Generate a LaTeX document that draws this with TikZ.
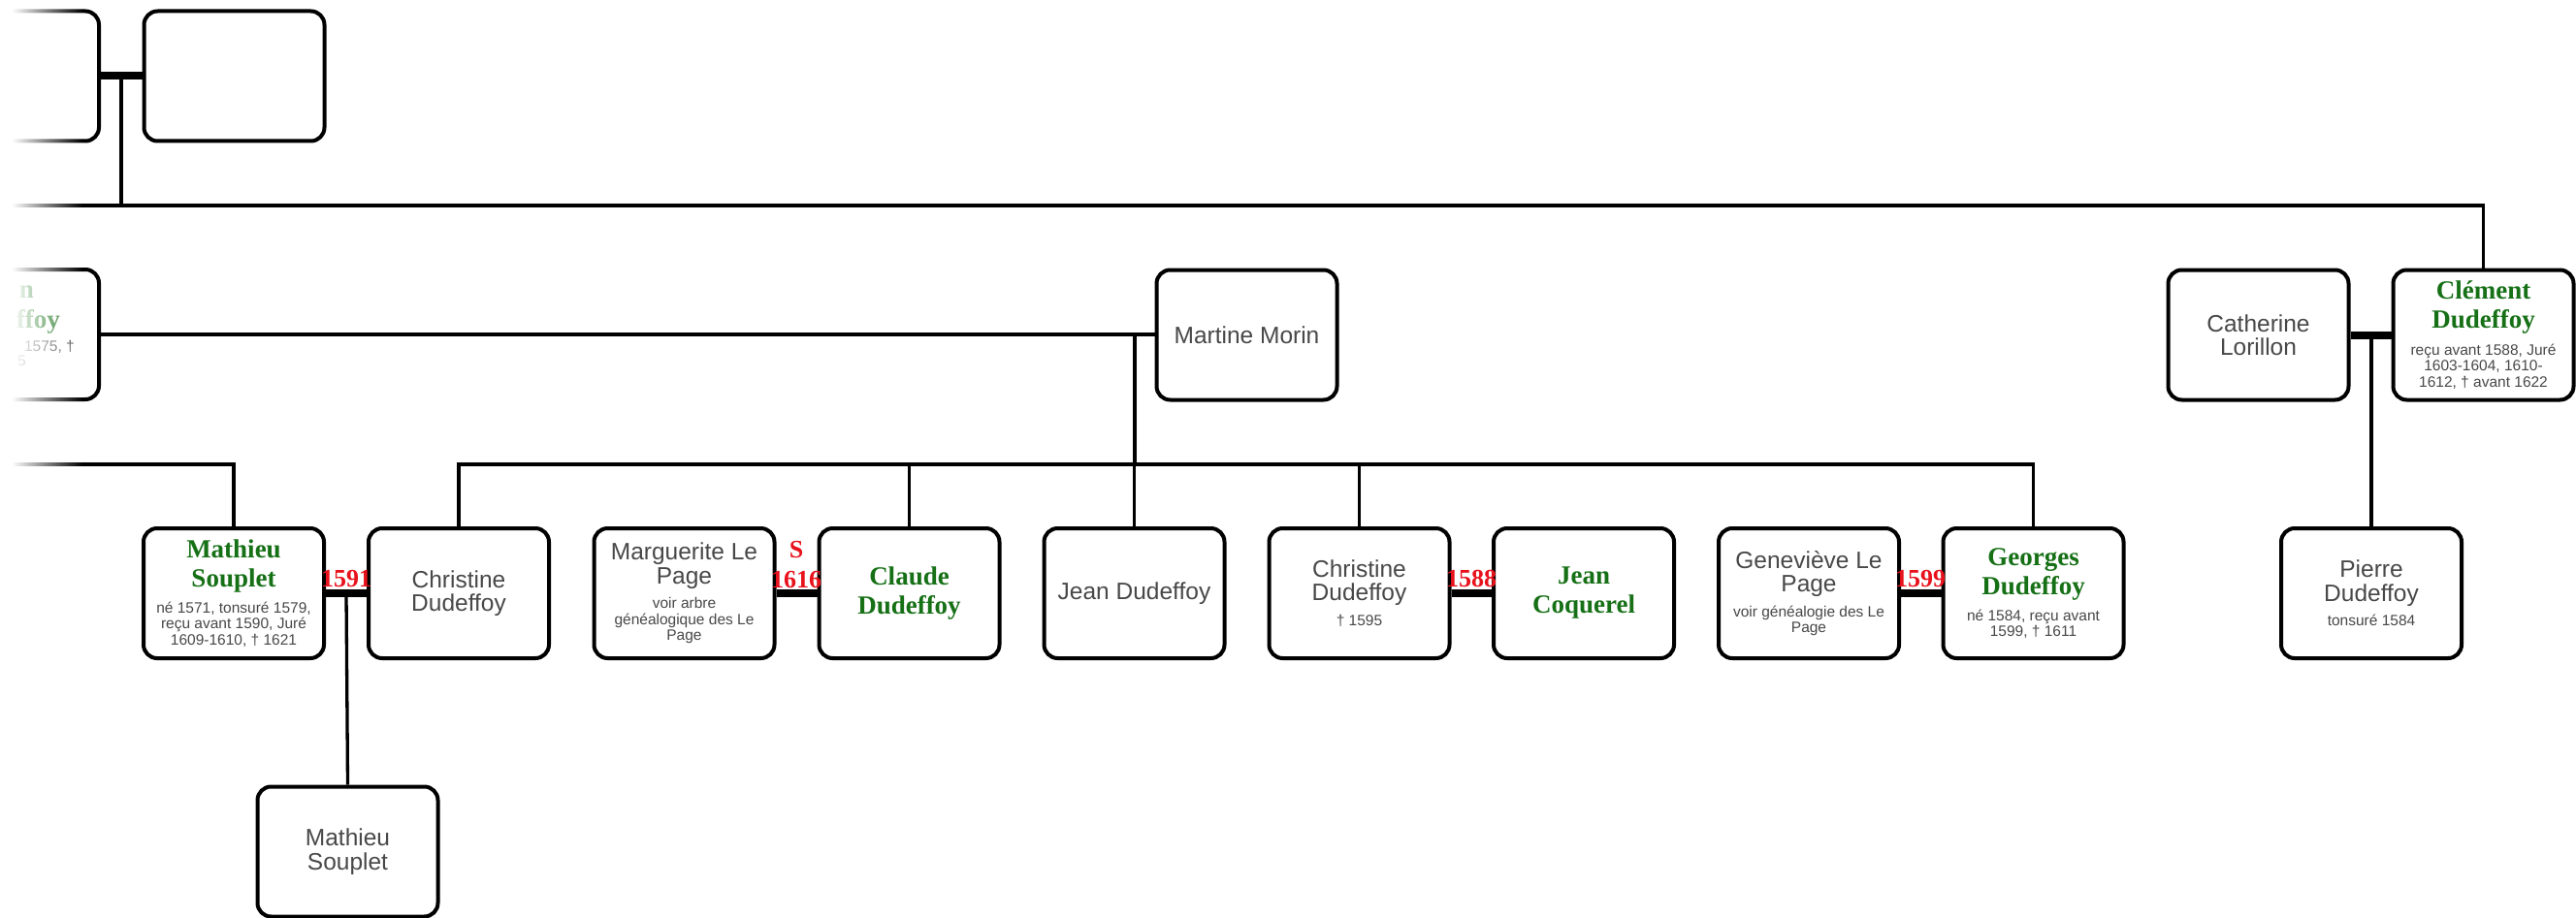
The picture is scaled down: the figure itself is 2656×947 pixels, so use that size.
\documentclass[tikz,border=0pt]{standalone}
\usepackage{fontspec}
\setmainfont{Liberation Sans}
\newfontfamily\serifb{Liberation Serif}
\usetikzlibrary{fadings}
\definecolor{txtgrey}{RGB}{72,72,72}
\definecolor{gname}{RGB}{22,112,22}
\definecolor{redlab}{RGB}{232,18,28}
\tikzfading[name=fadeR, left color=transparent!0, right color=transparent!100]
\newcommand\nmfont{\fontsize{24.5}{24.5}\selectfont\color{txtgrey}}
\newcommand\dtfont{\fontsize{15.5}{16.5}\selectfont\color{txtgrey}}
\newcommand\gnfont{\serifb\bfseries\fontsize{27}{30}\selectfont\color{gname}}
\newcommand\rdfont{\serifb\bfseries\fontsize{26}{31}\selectfont\color{redlab}}
\newcommand\pcard[1]{\vbox{\hsize=184pt\parindent=0pt\parskip=0pt\centering #1}}
\newcommand\dcard[1]{\vbox{\hsize=70pt\parindent=0pt\parskip=0pt\centering\rdfont #1\par}}
\begin{document}
\begin{tikzpicture}[x=1pt,y=-1pt,
  person/.style={draw=black, line width=4pt, rounded corners=14pt,
    minimum width=186pt, minimum height=134pt, inner sep=0pt, fill=white},
  link/.style={line width=3.3pt},
  wed/.style={line width=8pt},
  datelab/.style={inner sep=0pt},
  frag/.style={anchor=base east, inner sep=0pt}]
\useasboundingbox (0,0) rectangle (2656,947);

% ---- row 1
\node[person] (tl1) at (9,78.5) {};
\node[person] (tl2) at (241.5,78.5) {};
% ---- row 2
\node[person] (r2l) at (9,345) {};
\node[person] (mar) at (1285.5,345.5) {\pcard{\nmfont Martine Morin\par}};
\node[person] (cat) at (2328.5,345.5) {\pcard{\nmfont Catherine\\Lorillon\par}};
\node[person] (cle) at (2560.5,345.5) {\pcard{{\gnfont Clément\\Dudeffoy\par}\vskip 9pt{\dtfont reçu avant 1588, Juré\\1603-1604, 1610-\\1612, † avant 1622\par}}};
% ---- row 3
\node[person] (mat) at (241,612) {\pcard{{\gnfont Mathieu\\Souplet\par}\vskip 9pt{\dtfont né 1571, tonsuré 1579,\\reçu avant 1590, Juré\\1609-1610, † 1621\par}}};
\node[person] (chr) at (473,612) {\pcard{\nmfont Christine\\Dudeffoy\par}};
\node[person] (mgt) at (705.5,612) {\pcard{{\nmfont Marguerite Le\\Page\par}\vskip 9pt{\dtfont voir arbre\\généalogique des Le\\Page\par}}};
\node[person] (cla) at (937.5,612) {\pcard{\gnfont Claude\\Dudeffoy\par}};
\node[person] (jea) at (1169.5,612) {\pcard{\nmfont Jean Dudeffoy\par}};
\node[person] (ch2) at (1401.5,612) {\pcard{{\nmfont Christine\\Dudeffoy\par}\vskip 9pt{\dtfont † 1595\par}}};
\node[person] (coq) at (1633,612) {\pcard{\gnfont Jean\\Coquerel\par}};
\node[person] (gen) at (1865,612) {\pcard{{\nmfont Geneviève Le\\Page\par}\vskip 9pt{\dtfont voir généalogie des Le\\Page\par}}};
\node[person] (geo) at (2096.5,612) {\pcard{{\gnfont Georges\\Dudeffoy\par}\vskip 9pt{\dtfont né 1584, reçu avant\\1599, † 1611\par}}};
\node[person] (pie) at (2445,612) {\pcard{{\nmfont Pierre\\Dudeffoy\par}\vskip 9pt{\dtfont tonsuré 1584\par}}};
% ---- row 4
\node[person] (ma2) at (358.5,878.5) {\pcard{\nmfont Mathieu\\Souplet\par}};

% ---- visible fragments of the cut-off box
\node[frag] (fa) at (35,307) {\gnfont n};
\node[frag] (fb) at (62,338) {\gnfont ffoy};
\node[frag] (fc) at (77,362) {\dtfont 1575, †};
\node[frag] (fd) at (27,377) {\dtfont 5};

% ---- coordinates
\coordinate (topj) at (125,78.5);
\coordinate (tl0) at (-5,212);
\coordinate (mj) at (1170,345);
\coordinate (sib) at (1170,479);
\coordinate (ll0) at (-5,479);
\coordinate (cj) at (2445,345.5);
\coordinate (msj) at (357,612);

% ---- connectors
\draw[wed] (tl1.east) -- (tl2.west);
\draw[link] (topj) -- (topj |- tl0);
\draw[link] (tl0) -| (cle.north);

\draw[link] (r2l.east |- mj) -- (mar.west |- mj);
\draw[link] (mj) -- (sib);
\draw[link] (chr.north) |- (sib);
\draw[link] (sib) -| (geo.north);
\draw[link] (cla.north) -- (cla.north |- sib);
\draw[link] (jea.north) -- (jea.north |- sib);
\draw[link] (ch2.north) -- (ch2.north |- sib);
\draw[link] (ll0) -| (mat.north);

\draw[wed] (cat.east) -- (cle.west);
\draw[link] (cj) -- (pie.north);

\draw[wed] (mat.east) -- (chr.west);
\draw[link] (msj) -- (ma2.north);
\draw[wed] (mgt.east) -- (cla.west);
\draw[wed] (ch2.east) -- (coq.west);
\draw[wed] (gen.east) -- (geo.west);

% ---- marriage dates
\node[datelab] (d1) at (357,597) {\dcard{1591}};
\node[datelab] (d2) at (821,583) {\dcard{S\\1616}};
\node[datelab] (d3) at (1517,597) {\dcard{1588}};
\node[datelab] (d4) at (1980,597) {\dcard{1599}};

% ---- left fade
\fill[white] (-3,-3) rectangle (12,950);
\fill[white, path fading=fadeR] (12,-3) rectangle (85,950);
\end{tikzpicture}
\end{document}
